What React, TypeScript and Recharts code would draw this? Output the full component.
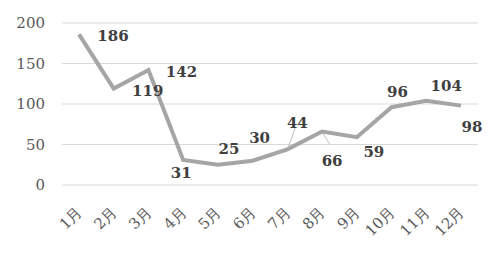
import React from 'react';
import { LineChart, Line, XAxis, YAxis, CartesianGrid, LabelList } from 'recharts';

const months = ['1月', '2月', '3月', '4月', '5月', '6月', '7月', '8月', '9月', '10月', '11月', '12月'];
const values = [186, 119, 142, 31, 25, 30, 44, 66, 59, 96, 104, 98];
const yTicks = [0, 50, 100, 150, 200];

// label offsets from each point (dx, dy), as placed in the original
const labelDx = [34, 34, 33, -2, 11, 7, 10, 10, 17, 6, 20, 11];
const labelDy = [2, 2, 2, 13, -16, -23, -26, 29, 15, -15, -15, 21];

const FONT = '"DejaVu Serif", serif';

const data = months.map((m, i) => ({ month: m, value: values[i] }));

const MonthTick = (props: any) => {
  const { x, y, payload } = props;
  const tx = x + 4;
  const ty = y + 28;
  return (
    <text
      x={tx}
      y={ty}
      transform={`rotate(-45, ${tx}, ${ty})`}
      textAnchor="end"
      fill="#595959"
      fontSize={15}
      fontFamily={FONT}
    >
      {payload.value}
    </text>
  );
};

const ValueLabel = (props: any) => {
  const { x, y, value, index } = props;
  const lx = x + labelDx[index];
  const ly = y + labelDy[index];
  const leader = index === 6 || index === 7;
  return (
    <g>
      {leader && (
        <line
          x1={x + 1}
          y1={y + (labelDy[index] > 0 ? 2 : -2)}
          x2={lx - 2}
          y2={ly + (labelDy[index] > 0 ? -16 : 4)}
          stroke="#bfbfbf"
          strokeWidth={1}
        />
      )}
      <text
        x={lx}
        y={ly}
        textAnchor="middle"
        dominantBaseline="central"
        fill="#404040"
        fontSize={15}
        fontWeight="bold"
        fontFamily={FONT}
      >
        {value}
      </text>
    </g>
  );
};

export default function App() {
  return (
    <div style={{ position: 'absolute', left: 0, top: 0, background: '#fff' }}>
      <LineChart
        width={500}
        height={256}
        data={data}
        margin={{ top: 23, right: 22, left: 0, bottom: 0 }}
      >
        <CartesianGrid vertical={false} stroke="#d9d9d9" strokeWidth={1} />
        <XAxis
          dataKey="month"
          axisLine={false}
          tickLine={false}
          tickSize={0}
          tickMargin={0}
          interval={0}
          height={71}
          padding={{ left: 17, right: 17 }}
          tick={<MonthTick />}
        />
        <YAxis
          domain={[0, 200]}
          ticks={yTicks}
          axisLine={false}
          tickLine={false}
          tickSize={0}
          tickMargin={17}
          width={62}
          tick={{ fill: '#595959', fontSize: 15, fontFamily: FONT }}
        />
        <Line
          type="linear"
          dataKey="value"
          stroke="#a5a5a5"
          strokeWidth={4}
          dot={false}
          isAnimationActive={false}
        >
          <LabelList dataKey="value" content={<ValueLabel />} />
        </Line>
      </LineChart>
    </div>
  );
}
